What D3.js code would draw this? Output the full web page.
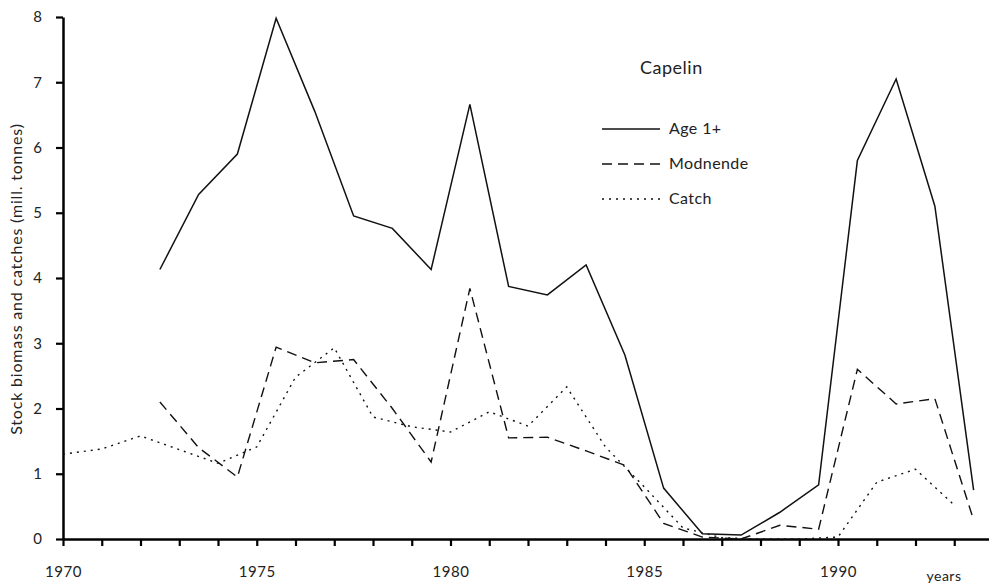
<!DOCTYPE html>
<html>
<head>
<meta charset="utf-8">
<script src="https://cdn.jsdelivr.net/npm/d3@7"></script>
<style>
  body { margin: 0; background: #fff; }
  svg text { font-family: Lato, "DejaVu Sans", sans-serif; fill: #222; }
</style>
</head>
<body>
<div id="chart"></div>
<script>
// stock biomass, plotted mid-year
var stockYears = d3.range(1972, 1994);
var ageOnePlus = [4.13, 5.28, 5.9, 7.98, 6.55, 4.95, 4.76, 4.13, 6.66, 3.87, 3.74,
                  4.2, 2.82, 0.78, 0.08, 0.06, 0.41, 0.83, 5.8, 7.05, 5.1, 0.75];
var modnende = [2.1, 1.4, 0.95, 2.94, 2.7, 2.75, 2.0, 1.18, 3.84, 1.55, 1.56,
                1.35, 1.13, 0.24, 0.03, 0.0, 0.21, 0.15, 2.6, 2.07, 2.15, 0.29];
// catch, plotted at the year tick
var catchYears = d3.range(1970, 1994);
var catches = [1.3, 1.38, 1.58, 1.37, 1.16, 1.41, 2.48, 2.93, 1.87, 1.72, 1.64, 1.95,
               1.73, 2.33, 1.41, 0.8, 0.17, 0.02, 0.0, 0.0, 0.03, 0.87, 1.07, 0.52];
var yTicks = [0, 1, 2, 3, 4, 5, 6, 7, 8];
var xLabelYears = [1970, 1975, 1980, 1985, 1990];
var legendNames = ["Age 1+", "Modnende", "Catch"];

var W = 989, H = 583;
var svg = d3.select("#chart").append("svg")
  .attr("width", W)
  .attr("height", H);

var x = d3.scaleLinear().domain([1970, 1994]).range([63, 993]);
var y = d3.scaleLinear().domain([0, 8]).range([539, 17]);

// y axis
var gy = svg.append("g")
  .attr("transform", "translate(63,0)")
  .call(d3.axisLeft(y).tickValues(yTicks).tickSize(7).tickSizeOuter(0).tickPadding(14));
gy.select(".domain").attr("stroke-width", 2.5);
gy.selectAll(".tick line").attr("stroke-width", 2.2);
gy.selectAll(".tick text").style("font-size", "15px").attr("fill", "#333");

// x axis
var gx = svg.append("g")
  .attr("transform", "translate(0,539)")
  .call(d3.axisBottom(x).tickValues(d3.range(1970, 1994)).tickSize(7).tickSizeOuter(0)
    .tickPadding(20)
    .tickFormat(function(d) { return xLabelYears.indexOf(d) >= 0 ? d : ""; }));
gx.select(".domain").attr("stroke-width", 2.5);
gx.selectAll(".tick line").attr("stroke-width", 2.2);
gx.selectAll(".tick text").style("font-size", "15px").style("letter-spacing", "0.6px").attr("fill", "#333");

svg.append("text")
  .attr("x", 944).attr("y", 581)
  .attr("text-anchor", "middle")
  .style("font-size", "14px")
  .style("letter-spacing", "0.5px")
  .text("years");

svg.append("text")
  .attr("transform", "translate(22,279) rotate(-90)")
  .attr("text-anchor", "middle")
  .style("font-size", "16px")
  .style("letter-spacing", "0.8px")
  .text("Stock biomass and catches (mill. tonnes)");

// lines
var lineGen = d3.line()
  .x(function(d) { return x(d[0]); })
  .y(function(d) { return y(d[1]); });

var series = [
  { pts: stockYears.map(function(d, i) { return [d + 0.5, ageOnePlus[i]]; }), dash: null, w: 1.5 },
  { pts: stockYears.map(function(d, i) { return [d + 0.5, modnende[i]]; }), dash: "10,6", w: 1.4 },
  { pts: catchYears.map(function(d, i) { return [d, catches[i]]; }), dash: "2,5", w: 1.4 }
];

series.forEach(function(s) {
  svg.append("path")
    .datum(s.pts)
    .attr("d", lineGen)
    .attr("fill", "none")
    .attr("stroke", "#111")
    .attr("stroke-width", s.w)
    .attr("stroke-dasharray", s.dash);
});

// legend
svg.append("text")
  .attr("x", 640).attr("y", 74)
  .style("font-size", "18px")
  .style("letter-spacing", "0.5px")
  .text("Capelin");

legendNames.forEach(function(name, i) {
  var ly = 129 + i * 35;
  svg.append("line")
    .attr("x1", 602).attr("x2", 660)
    .attr("y1", ly).attr("y2", ly)
    .attr("stroke", "#111")
    .attr("stroke-width", series[i].w)
    .attr("stroke-dasharray", series[i].dash);
  svg.append("text")
    .attr("x", 669).attr("y", ly + 5)
    .style("font-size", "16px")
    .style("letter-spacing", "0.4px")
    .text(name);
});
</script>
</body>
</html>
